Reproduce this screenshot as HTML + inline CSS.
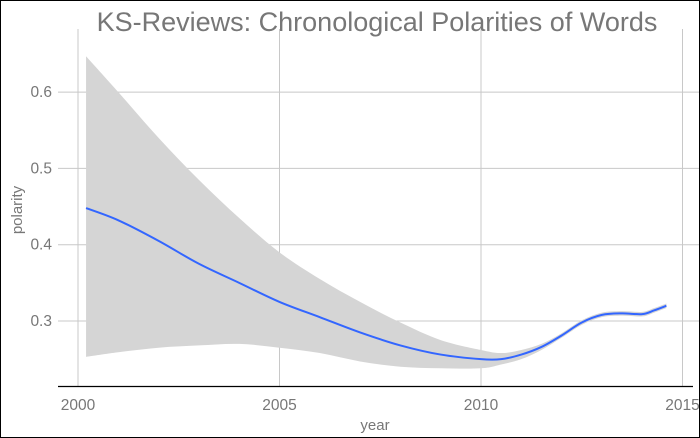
<!DOCTYPE html>
<html><head><meta charset="utf-8"><style>
html,body{margin:0;padding:0;background:#fff}
#wrap{width:698px;height:436px;border:1px solid #000;position:relative;overflow:hidden}
svg text{font-family:"Liberation Sans",Arial,sans-serif}
</style></head><body>
<div id="wrap">
<svg id="chart" width="698" height="436"></svg>
</div>
<script>
const years=[2000.2,2001,2002,2003,2004,2005,2006,2007,2008,2009,2010,2010.5,2011,2011.5,2012,2012.5,2013,2013.5,2014,2014.3,2014.6];
const fitVals=[0.448,0.432,0.405,0.375,0.350,0.325,0.305,0.285,0.268,0.256,0.250,0.250,0.256,0.266,0.281,0.298,0.308,0.310,0.309,0.314,0.320];
const loVals=[0.253,0.259,0.265,0.268,0.270,0.265,0.258,0.247,0.240,0.238,0.238,0.243,0.250,0.262,0.278,0.295,0.305,0.307,0.306,0.311,0.317];
const hiVals=[0.647,0.600,0.540,0.485,0.435,0.390,0.355,0.325,0.298,0.275,0.262,0.258,0.262,0.270,0.284,0.301,0.311,0.313,0.312,0.317,0.323];
const xTicks=[2000,2005,2010,2015];
const yTicks=[0.3,0.4,0.5,0.6];
const NS="http://www.w3.org/2000/svg";
const svg=document.getElementById('chart');
const X=v=>77+(v-2000)*40.3;
const Y=v=>320-(v-0.3)*763;
function mk(t,a){const e=document.createElementNS(NS,t);for(const k in a)e.setAttribute(k,a[k]);svg.appendChild(e);return e;}
function smooth(pts,start){ // catmull-rom to bezier
 let d=(start?'M':'L')+pts[0][0]+','+pts[0][1];
 for(let i=0;i<pts.length-1;i++){
  const p0=pts[Math.max(0,i-1)],p1=pts[i],p2=pts[i+1],p3=pts[Math.min(pts.length-1,i+2)];
  const c1=[p1[0]+(p2[0]-p0[0])/6,p1[1]+(p2[1]-p0[1])/6];
  const c2=[p2[0]-(p3[0]-p1[0])/6,p2[1]-(p3[1]-p1[1])/6];
  d+='C'+c1+' '+c2+' '+p2;
 }
 return d;
}
yTicks.forEach(t=>{
 const g=mk('line',{x1:57,x2:698,y1:Y(t),y2:Y(t),stroke:'#c8c8c8','stroke-width':1});
 
 
 const l=mk('text',{x:51,y:Y(t)+5,'text-anchor':'end','font-size':15.5,fill:'#777'});
 l.textContent=t.toFixed(1);
 
 
});
xTicks.forEach(t=>{
 const g=mk('line',{x1:X(t),x2:X(t),y1:28,y2:385,stroke:'#c8c8c8','stroke-width':1});
 
 
 const l=mk('text',{x:X(t),y:409,'text-anchor':'middle','font-size':15.5,fill:'#777'});
 l.textContent=t;
 
 
});
const hiPts=years.map((y,i)=>[X(y),Y(hiVals[i])]);
const loPts=years.map((y,i)=>[X(y),Y(loVals[i])]).reverse();
const band=mk('path',{d:smooth(hiPts,true)+smooth(loPts,false)+'Z',fill:'#d5d5d5'});


const line=mk('path',{d:smooth(years.map((y,i)=>[X(y),Y(fitVals[i])]),true),fill:'none',stroke:'#3366ff','stroke-width':2});


const ax=mk('line',{x1:57,x2:692,y1:385.5,y2:385.5,stroke:'#000','stroke-width':1.2});


const xt=mk('text',{x:374,y:429,'text-anchor':'middle','font-size':15,fill:'#777'});
xt.textContent='year';


const yt=mk('text',{x:0,y:0,'text-anchor':'middle','font-size':15,fill:'#777',transform:'translate(21,209) rotate(-90)'});
yt.textContent='polarity';


const ti=mk('text',{x:376,y:30,'text-anchor':'middle','font-size':27,fill:'#777'});
ti.textContent='KS-Reviews: Chronological Polarities of Words';


</script>
</body></html>
